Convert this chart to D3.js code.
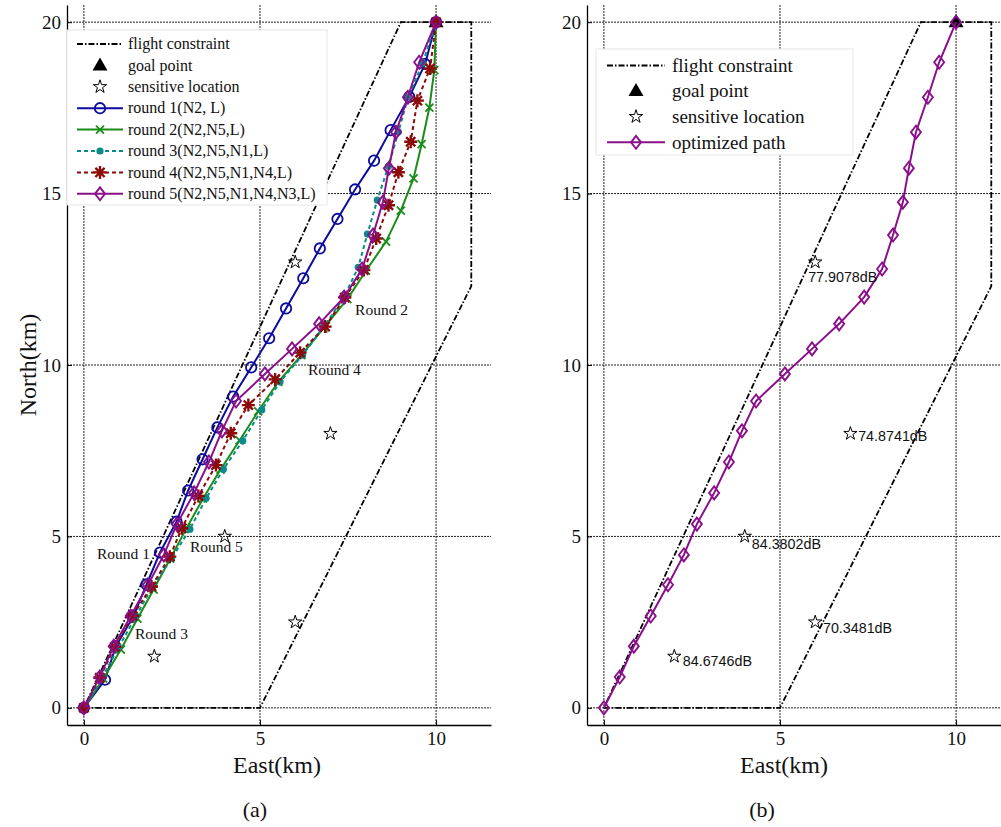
<!DOCTYPE html>
<html><head><meta charset="utf-8">
<script src="https://cdn.jsdelivr.net/npm/d3@7"></script>
<style>body{margin:0;background:#fff}svg{display:block}</style>
</head><body>
<svg id="c" width="1001" height="827"></svg>
<script>
// ---------------- data ----------------
const round1 = [[0,0],[0.6,0.82],[0.9,1.78],[1.4,2.66],[1.78,3.6],[2.16,4.53],[2.63,5.43],[2.96,6.34],[3.37,7.25],[3.79,8.18],[4.24,9.08],[4.75,9.93],[5.26,10.78],[5.74,11.65],[6.23,12.53],[6.7,13.4],[7.2,14.26],[7.7,15.12],[8.24,15.96],[8.71,16.85],[9.24,17.82],[9.69,18.78],[10,20]];
const round2 = [[0,0],[0.55,0.85],[1.05,1.7],[1.52,2.6],[1.98,3.45],[2.45,4.35],[2.92,5.25],[3.38,6.1],[3.88,6.95],[4.42,7.8],[4.95,8.65],[5.52,9.51],[6.18,10.29],[6.8,11.07],[7.48,11.92],[8.01,12.75],[8.58,13.6],[9.0,14.5],[9.36,15.44],[9.59,16.44],[9.81,17.51],[9.95,18.6],[10,20]];
const round3 = [[0,0],[0.5,0.85],[0.97,1.74],[1.45,2.62],[1.92,3.49],[2.49,4.36],[3.01,5.21],[3.47,6.11],[3.96,6.96],[4.51,7.79],[5.05,8.69],[5.57,9.51],[6.21,10.29],[6.85,11.17],[7.39,11.99],[7.79,12.85],[8.05,13.82],[8.33,14.81],[8.65,15.8],[8.93,16.8],[9.21,17.82],[9.62,18.8],[10,20]];
const round4 = [[0,0],[0.45,0.88],[0.88,1.78],[1.38,2.68],[1.92,3.54],[2.44,4.41],[2.78,5.24],[3.25,6.18],[3.75,7.08],[4.17,8.01],[4.67,8.83],[5.43,9.58],[6.14,10.36],[6.85,11.12],[7.41,11.97],[7.95,12.77],[8.3,13.69],[8.65,14.66],[8.93,15.62],[9.28,16.51],[9.47,17.71],[9.83,18.65],[10,20]];
const round5 = [[0,0],[0.45,0.9],[0.85,1.8],[1.33,2.68],[1.82,3.59],[2.27,4.46],[2.64,5.36],[3.13,6.27],[3.55,7.17],[3.92,8.08],[4.32,8.95],[5.14,9.74],[5.91,10.47],[6.68,11.2],[7.39,11.98],[7.9,12.8],[8.21,13.79],[8.49,14.75],[8.66,15.74],[8.86,16.79],[9.2,17.81],[9.52,18.83],[10,20]];
const constraint = [[0,0],[5,0],[11,12.3],[11,20],[9,20],[0,0]];
const goal = [[10,20]];
const sensitive = [[6,13],[7,8],[4,5],[6,2.5],[2,1.5]];
const noiseLabels = ["77.9078dB","74.8741dB","84.3802dB","70.3481dB","84.6746dB"];
const noiseLabelPos = [[5.8,12.42],[7.22,7.78],[4.2,4.64],[6.22,2.19],[2.24,1.22]];
const roundNames = ["round 1(N2, L)","round 2(N2,N5,L)","round 3(N2,N5,N1,L)","round 4(N2,N5,N1,N4,L)","round 5(N2,N5,N1,N4,N3,L)"];
const roundTags = ["Round 1","Round 2","Round 3","Round 4","Round 5"];
const roundTagPos = [[0.37,4.33],[7.7,11.45],[1.45,2.0],[6.36,9.72],[3.01,4.56]];
const xTicks = [0,5,10];
const yTicks = [0,5,10,15,20];

// ---------------- styles ----------------
const SERIF = "Liberation Serif, Times New Roman, serif";
const SANS = "Liberation Sans, Arial, sans-serif";
const styles = [
  {color:"#0c0c9c", dash:null, marker:"circle"},
  {color:"#198c19", dash:null, marker:"x"},
  {color:"#0a8a8a", dash:"4,3", marker:"dot"},
  {color:"#8b0a0a", dash:"4,3", marker:"asterisk"},
  {color:"#8a108a", dash:null, marker:"diamond"}
];
const rounds = [round1, round2, round3, round4, round5];
const svg = d3.select("#c");

function drawMarker(g, type, color, x, y) {
  const m = g.append("g").attr("transform", `translate(${x},${y})`);
  if (type === "circle") m.append("circle").attr("r",5.2).attr("fill","none").attr("stroke",color).attr("stroke-width",1.8);
  else if (type === "dot") m.append("circle").attr("r",3.6).attr("fill",color);
  else if (type === "x") m.append("path").attr("d","M-4,-4L4,4M-4,4L4,-4").attr("stroke",color).attr("stroke-width",1.8);
  else if (type === "asterisk") m.append("path").attr("d","M0,-6.5L0,6.5M-6.5,0L6.5,0M-4.6,-4.6L4.6,4.6M-4.6,4.6L4.6,-4.6").attr("stroke",color).attr("stroke-width",2.4);
  else if (type === "diamond") m.append("path").attr("d","M0,-6.5L5,0L0,6.5L-5,0Z").attr("fill","none").attr("stroke",color).attr("stroke-width",1.9);
  else if (type === "triangle") m.append("path").attr("d","M0,-8L7.5,5L-7.5,5Z").attr("fill","#000");
  else if (type === "star") m.append("path").attr("d", d3.symbol(d3.symbolStar).size(55)()).attr("fill","none").attr("stroke","#000").attr("stroke-width",1);
}

function panel(x0, opts) {
  const x = d3.scaleLinear().domain([-0.48, 11.56]).range([x0, x0 + 424]);
  const y = d3.scaleLinear().domain([-0.5, 20.5]).range([725, 5]);
  const g = svg.append("g");
  // grid
  g.selectAll(".gx").data(xTicks).join("line")
    .attr("x1", d => x(d)).attr("x2", d => x(d)).attr("y1", 5).attr("y2", 725)
    .attr("stroke", "#222").attr("stroke-width", 1).attr("stroke-dasharray", "2,1");
  g.selectAll(".gy").data(yTicks).join("line")
    .attr("x1", x0).attr("x2", x0 + 424).attr("y1", d => y(d)).attr("y2", d => y(d))
    .attr("stroke", "#222").attr("stroke-width", 1).attr("stroke-dasharray", "2,1");
  // axes
  const ax = g.append("g").attr("transform", "translate(0,725)")
    .call(d3.axisBottom(x).tickValues(xTicks).tickSize(-5).tickSizeOuter(0).tickPadding(9).tickFormat(d3.format("d")));
  const ay = g.append("g").attr("transform", `translate(${x0},0)`)
    .call(d3.axisLeft(y).tickValues(yTicks).tickSize(-5).tickSizeOuter(0).tickPadding(6).tickFormat(d3.format("d")));
  [ax, ay].forEach(a => {
    a.attr("font-family", SERIF).attr("font-size", 19);
    a.selectAll("text").attr("font-family", SERIF).attr("font-size", 19).attr("fill", "#111");
    a.select(".domain").attr("stroke", "#000").attr("stroke-width", 1.3);
    a.selectAll(".tick line").attr("stroke", "#000");
  });
  ax.selectAll("text").attr("dy", "0.6em");

  const line = d3.line().x(d => x(d[0])).y(d => y(d[1]));
  // constraint
  g.append("path").attr("d", line(constraint)).attr("fill", "none").attr("stroke", "#000")
    .attr("stroke-width", 1.8).attr("stroke-dasharray", "6,2,1.5,2");
  // sensitive locations
  sensitive.forEach(s => drawMarker(g, "star", "#000", x(s[0]), y(s[1])));
  // goal
  goal.forEach(p => drawMarker(g, "triangle", "#000", x(p[0]), y(p[1])));

  opts.rounds.forEach(i => {
    const st = styles[i];
    g.append("path").attr("d", line(rounds[i])).attr("fill", "none").attr("stroke", st.color)
      .attr("stroke-width", 2).attr("stroke-dasharray", st.dash);
    rounds[i].forEach(p => drawMarker(g, st.marker, st.color, x(p[0]), y(p[1])));
  });

  if (opts.tags) {
    roundTags.forEach((t, i) => g.append("text").attr("x", x(roundTagPos[i][0])).attr("y", y(roundTagPos[i][1]))
      .attr("font-family", SERIF).attr("font-size", 15.5).attr("fill", "#111").text(t));
  }
  if (opts.noise) {
    noiseLabels.forEach((t, i) => g.append("text").attr("x", x(noiseLabelPos[i][0])).attr("y", y(noiseLabelPos[i][1]))
      .attr("font-family", SANS).attr("font-size", 14.3).attr("fill", "#111").text(t));
  }

  // axis labels
  g.append("text").attr("x", opts.xlabX).attr("y", 773).attr("text-anchor", "middle")
    .attr("font-family", SERIF).attr("font-size", 24).attr("fill", "#111").text("East(km)");
  g.append("text").attr("x", opts.xlabX - 22).attr("y", 817).attr("text-anchor", "middle")
    .attr("font-family", SERIF).attr("font-size", 22).attr("fill", "#111").text(opts.caption);
  if (opts.ylabel) {
    g.append("text").attr("transform", "translate(36,365) rotate(-90)").attr("text-anchor", "middle")
      .attr("font-family", SERIF).attr("font-size", 24).attr("fill", "#111").text("North(km)");
  }

  // legend
  const L = opts.legend;
  const lg = g.append("g");
  lg.append("rect").attr("x", L.x).attr("y", L.y).attr("width", L.w).attr("height", L.h)
    .attr("fill", "#fff").attr("stroke", "#e6e6e6").attr("stroke-width", 1);
  const items = [{t:"flight constraint", k:"fc"}, {t:"goal point", k:"goal"}, {t:"sensitive location", k:"star"}]
    .concat(L.items);
  items.forEach((it, i) => {
    const cy = L.y0 + i * L.dy;
    const lx1 = L.lx1, lx2 = L.lx2, cx = (lx1 + lx2) / 2;
    if (it.k === "fc") lg.append("line").attr("x1", lx1).attr("x2", lx2).attr("y1", cy).attr("y2", cy)
      .attr("stroke", "#000").attr("stroke-width", 1.8).attr("stroke-dasharray", "6,2,1.5,2");
    else if (it.k === "goal") drawMarker(lg, "triangle", "#000", cx, cy);
    else if (it.k === "star") drawMarker(lg, "star", "#000", cx, cy);
    else {
      const st = styles[it.k];
      lg.append("line").attr("x1", lx1).attr("x2", lx2).attr("y1", cy).attr("y2", cy)
        .attr("stroke", st.color).attr("stroke-width", 2).attr("stroke-dasharray", st.dash);
      drawMarker(lg, st.marker, st.color, cx, cy);
    }
    lg.append("text").attr("x", L.tx).attr("y", cy).attr("dy", "0.33em")
      .attr("font-family", SERIF).attr("font-size", L.fs).attr("fill", "#111").text(it.t);
  });
}

panel(67, {
  rounds: [0,1,2,3,4], tags: true, noise: false, ylabel: true, xlabX: 277, caption: "(a)",
  legend: {x:67, y:30, w:260, h:175, y0:44, dy:21.4, lx1:77, lx2:123, tx:128, fs:16,
    items: roundNames.map((t, i) => ({t, k:i}))}
});
panel(587, {
  rounds: [4], tags: false, noise: true, ylabel: false, xlabX: 784, caption: "(b)",
  legend: {x:596, y:49, w:257, h:106, y0:65.5, dy:25.6, lx1:607, lx2:665, tx:672, fs:19,
    items: [{t:"optimized path", k:4}]}
});
</script>
</body></html>
